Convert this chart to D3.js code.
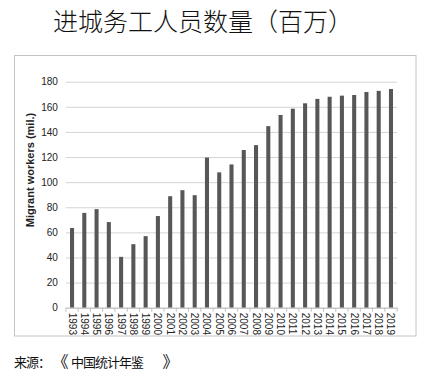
<!DOCTYPE html>
<html><head><meta charset="utf-8">
<script src="https://cdn.jsdelivr.net/npm/d3@7"></script>
<style>body{margin:0;background:#fff;}svg{display:block;}</style>
</head><body>
<svg id="c" width="427" height="382"></svg>
<script>
const years = ["1993","1994","1995","1996","1997","1998","1999","2000","2001","2002","2003","2004","2005","2006","2007","2008","2009","2010","2011","2012","2013","2014","2015","2016","2017","2018","2019"];
const workers = [63.5,75.5,78.5,68.2,40.5,50.6,57,73,88.8,93.6,89.6,119.6,107.8,114.1,125.6,129.5,144.6,153.5,158.5,162.8,166.3,168,168.9,169.4,171.8,172.7,174.2];
const yTicks = [0,20,40,60,80,100,120,140,160,180];
const titleText = "进城务工人员数量（百万）";
const yTitle = "Migrant workers (mil.)";
const sourceChars = ["来","源","：","《","中","国","统","计","年","鉴","》"];
const sourceX = [14,26,38,52.5,71,83,95,107,119,131,162.5];

const svg = d3.select("#c");
const left = 65.9, right = 397.1, bottom = 307.7, top180 = 81.7;

svg.append("text").attr("x", 53).attr("y", 31)
  .attr("font-family", "Noto Sans CJK SC").attr("font-size", 25).attr("font-weight", 300).attr("fill", "#111")
  .text(titleText);

svg.append("rect").attr("x", 14.5).attr("y", 55.5).attr("width", 401.5).attr("height", 280.5)
  .attr("fill", "none").attr("stroke", "#c4c4c4").attr("stroke-width", 1);

const x = d3.scaleBand().domain(years).range([left, right]).paddingInner(0.67).paddingOuter(0.335);
const y = d3.scaleLinear().domain([0, 180]).range([bottom, top180]);

// gridlines
const yAxis = d3.axisLeft(y).tickValues(yTicks).tickSize(-(right - left)).tickPadding(8);
const gy = svg.append("g").attr("transform", `translate(${left},0)`).call(yAxis);
gy.select(".domain").remove();
gy.selectAll(".tick line").attr("stroke", "#d4d4d4");
gy.selectAll(".tick text").attr("font-family", "Liberation Sans, Arial, sans-serif").attr("font-size", 10).attr("fill", "#222");

// bars
svg.append("g").selectAll("rect").data(years).join("rect")
  .attr("x", d => x(d)).attr("width", x.bandwidth())
  .attr("y", (d, i) => y(workers[i])).attr("height", (d, i) => bottom - y(workers[i]))
  .attr("fill", "#575757");

// x axis
const step = x.step();
const xAxis = d3.axisBottom(x).tickSize(0).tickPadding(0);
const gx = svg.append("g").attr("transform", `translate(0,${bottom})`).call(xAxis);
gx.select(".domain").attr("stroke", "#bfbfbf");
gx.selectAll(".tick text")
  .attr("font-family", "Liberation Sans, Arial, sans-serif").attr("font-size", 10).attr("fill", "#222")
  .attr("transform", "rotate(90)").attr("text-anchor", "start").attr("dy", "0.35em")
  .attr("x", 5).attr("y", 0);
// boundary tick marks
svg.append("g").selectAll("line").data(d3.range(years.length + 1)).join("line")
  .attr("x1", i => left + i * step).attr("x2", i => left + i * step)
  .attr("y1", bottom).attr("y2", bottom + 4).attr("stroke", "#bfbfbf");

// y title
svg.append("text").attr("transform", `translate(34,170) rotate(-90)`)
  .attr("text-anchor", "middle").attr("font-family", "Liberation Sans, Arial, sans-serif")
  .attr("font-size", 11).attr("font-weight", "bold").attr("fill", "#222").text(yTitle);

svg.append("text").attr("y", 367)
  .attr("font-family", "Noto Sans CJK SC").attr("font-size", 13).attr("fill", "#111")
  .selectAll("tspan").data(sourceChars).join("tspan")
  .attr("x", (d, i) => sourceX[i])
  .attr("font-size", d => (d === "《" || d === "》") ? 16 : 13)
  .text(d => d);
</script>
</body></html>
